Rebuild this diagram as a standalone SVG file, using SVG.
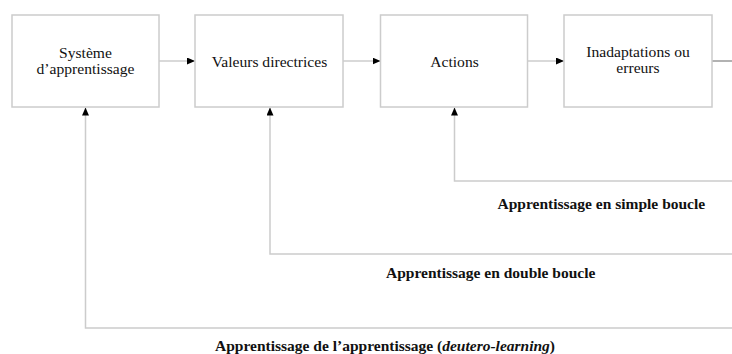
<svg xmlns="http://www.w3.org/2000/svg" width="732" height="354" viewBox="0 0 732 354">
<style>
.box{fill:#fff;stroke:#cccccc;stroke-width:1.5}
.t{font-family:"Liberation Serif",serif;font-size:15.6px;fill:#111;text-anchor:middle}
.b{font-family:"Liberation Serif",serif;font-size:15.5px;font-weight:bold;fill:#111}
.c{fill:none;stroke:#cccccc;stroke-width:1.5}
</style>
<defs>
<marker id="ah" markerWidth="8" markerHeight="7" refX="8" refY="3.5" orient="auto" markerUnits="userSpaceOnUse">
<path d="M0,0 L8,3.5 L0,7 Z" fill="#000"/>
</marker>
</defs>
<rect width="732" height="354" fill="#fff"/>
<g id="connectors">
<line class="c" x1="159" y1="61" x2="195" y2="61" marker-end="url(#ah)"/>
<line class="c" x1="343" y1="61" x2="380.5" y2="61" marker-end="url(#ah)"/>
<line class="c" x1="527.5" y1="61" x2="564" y2="61" marker-end="url(#ah)"/>
<line x1="712" y1="61" x2="732" y2="61" stroke="#999" stroke-width="1.5"/>
<polyline class="c" points="732,181 454.5,181 454.5,107.5" marker-end="url(#ah)"/>
<polyline class="c" points="732,254 270,254 270,107.5" marker-end="url(#ah)"/>
<polyline class="c" points="732,328 85.5,328 85.5,107.5" marker-end="url(#ah)"/>
</g>
<g id="n1">
<rect class="box" x="12" y="15" width="147" height="92"/>
<text class="t" x="85.5" y="57.5">Système</text>
<text class="t" x="85.5" y="73.5">d’apprentissage</text>
</g>
<g id="n2">
<rect class="box" x="195" y="15" width="148" height="92"/>
<text class="t" x="269.5" y="66.5">Valeurs directrices</text>
</g>
<g id="n3">
<rect class="box" x="380.5" y="15" width="147" height="92"/>
<text class="t" x="454.5" y="66.5">Actions</text>
</g>
<g id="n4">
<rect class="box" x="564" y="15" width="148" height="92"/>
<text class="t" x="638" y="57">Inadaptations ou</text>
<text class="t" x="638" y="72.5">erreurs</text>
</g>
<g id="labels">
<text class="b" x="497.5" y="209">Apprentissage en simple boucle</text>
<text class="b" x="386" y="278">Apprentissage en double boucle</text>
<text class="b" x="215" y="351">Apprentissage de l’apprentissage (<tspan font-style="italic">deutero-learning</tspan>)</text>
</g>
</svg>
